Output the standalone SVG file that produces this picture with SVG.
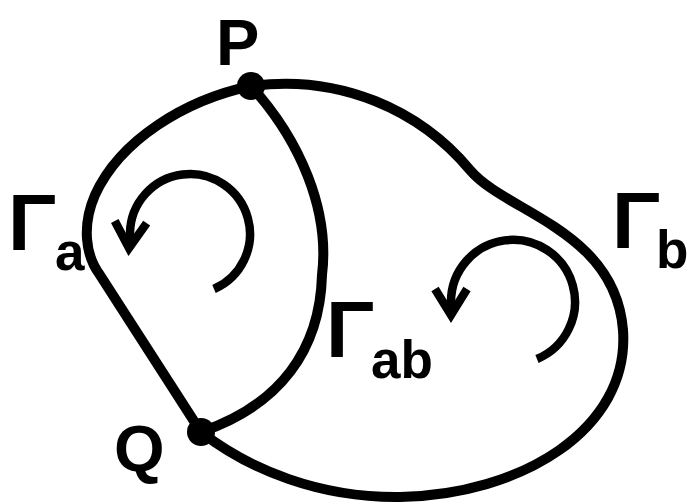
<svg xmlns="http://www.w3.org/2000/svg" width="687" height="503" viewBox="0 0 687 503">
  <style>
    .curve { fill: none; stroke: #000; stroke-width: 10; stroke-linecap: round; }
    .circ { fill: none; stroke: #000; stroke-width: 8.5; stroke-linecap: butt; }
    .lbl { font-family: "Liberation Sans", Arial, sans-serif; font-weight: bold; fill: #000; }
    .big { font-size: 80px; }
    .sub { font-size: 53px; }
    .pt { font-size: 65px; }
    .dot { fill: #000; }
  </style>
  <defs>
    <marker id="chev" markerUnits="userSpaceOnUse" refX="0" refY="0" markerWidth="60" markerHeight="60" orient="auto" overflow="visible">
      <path d="M-26,-16 L0,0 L-26,16" fill="none" stroke="#000" stroke-width="8.5" stroke-linejoin="miter"/>
    </marker>
  </defs>
  <rect width="687" height="503" fill="#fff"/>
  <g id="connectors">
    <path id="left-arc" class="curve" d="M251,86 C185,100 120,140 95,195 C82,225 85,255 100,275 L201,432"/>
    <path id="middle-arc" class="curve" d="M251,86 C300,140 330,210 322,275 C320,350 280,405 201,432"/>
    <path id="outer-arc" class="curve" d="M251,86 C340,74 420,110 470,170 C505,212 615,230 623,330 C630,430 520,495 400,497 C320,498 250,470 201,432"/>
  </g>
  <g id="circulation-a">
    <path class="circ" d="M214,289 A60,60 0 1 0 130,233 L129,248" marker-end="url(#chev)"/>
  </g>
  <g id="circulation-b">
    <path class="circ" d="M537,359 A62,62 0 1 0 451,302 L451,315" marker-end="url(#chev)"/>
  </g>
  <g id="node-P">
    <circle class="dot" cx="251" cy="86" r="14"/>
    <text class="lbl pt" x="216" y="65">P</text>
  </g>
  <g id="node-Q">
    <circle class="dot" cx="201" cy="432" r="14"/>
    <text class="lbl pt" x="114" y="471">Q</text>
  </g>
  <g id="label-a">
    <text class="lbl big" x="8" y="250">Γ</text>
    <text class="lbl sub" x="55" y="270">a</text>
  </g>
  <g id="label-b">
    <text class="lbl big" x="612" y="248">Γ</text>
    <text class="lbl sub" x="656" y="268">b</text>
  </g>
  <g id="label-ab">
    <text class="lbl big" x="326" y="357">Γ</text>
    <text class="lbl sub" x="371" y="378">ab</text>
  </g>
</svg>
